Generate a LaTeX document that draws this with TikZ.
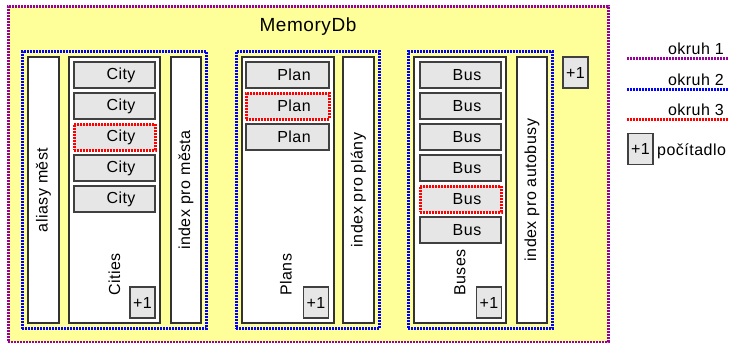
\documentclass[tikz,border=0pt]{standalone}
\usepackage{fontspec}
\setmainfont{Liberation Sans}[LetterSpace=3]
\usetikzlibrary{fit}
\definecolor{okruhA}{HTML}{990099}
\definecolor{okruhB}{HTML}{0000FF}
\definecolor{okruhC}{HTML}{FF0000}
\definecolor{dbYellow}{HTML}{FFFF99}
\definecolor{itemGray}{HTML}{E6E6E6}

\begin{document}
\begin{tikzpicture}[x=1pt,y=-1pt,
  ring/.style={line width=3pt,dash pattern=on 2pt off 1pt},
  ringA/.style={ring,draw=okruhA},
  ringB/.style={ring,draw=okruhB},
  ringC/.style={ring,draw=okruhC},
  column/.style={draw=black!80,line width=1.2pt,fill=white,minimum width=#1,
    minimum height=266pt,inner sep=0pt,font=\fontsize{16}{16}\selectfont},
  item/.style={draw=black!75,line width=1.2pt,fill=itemGray,minimum width=81pt,
    minimum height=26pt,inner sep=0pt,font=\fontsize{16}{16}\selectfont,
    execute at begin node=\hspace*{13pt}},
  counter/.style={draw=black!75,line width=1.2pt,fill=itemGray,minimum width=25pt,
    minimum height=31pt,inner sep=0pt,font=\fontsize{16}{16}\selectfont},
  lbl/.style={inner sep=0pt,font=\fontsize{16}{16}\selectfont}]
  \useasboundingbox (0,0) rectangle (729,343);
  % MemoryDb
  \node[ringA,fill=dbYellow,minimum width=600pt,minimum height=336pt] (memorydb) at (308,174) {};
  \node[inner sep=0pt,font=\fontsize{19}{19}\selectfont,anchor=base] (title) at (308,31) {MemoryDb};
  \node[counter] (dbCnt) at (575.5,72.5) {+1};
  % mesta
  \node[column=31pt] (aliasy) at (43.5,190) {\rotatebox{90}{aliasy měst}};
  \node[column=91pt] (cities) at (114.5,190) {};
  \node[column=30pt] (idxMesta) at (186,190) {\rotatebox{90}{index pro města}};
  \node[item] (city1) at (114.5,75) {City};
  \node[item] (city2) at (114.5,106) {City};
  \node[item,ringC] (city3) at (114.5,137) {City};
  \node[item] (city4) at (114.5,168) {City};
  \node[item] (city5) at (114.5,199) {City};
  \node[lbl,rotate=90,anchor=west] (citiesLbl) at (114.5,296) {Cities};
  \node[counter] (citiesCnt) at (142.5,302.5) {+1};
  \node[ringB,fit=(aliasy)(cities)(idxMesta),inner sep=5pt] (grpMesta) {};
  % plany
  \node[column=92pt] (plans) at (288,190) {};
  \node[column=31pt] (idxPlany) at (358.5,190) {\rotatebox{90}{index pro plány}};
  \node[item,minimum width=83pt] (plan1) at (287.5,75) {Plan};
  \node[item,minimum width=83pt,ringC] (plan2) at (287.5,106) {Plan};
  \node[item,minimum width=83pt] (plan3) at (287.5,137) {Plan};
  \node[lbl,rotate=90,anchor=west] (plansLbl) at (286,296) {Plans};
  \node[counter] (plansCnt) at (316,302.5) {+1};
  \node[ringB,fit=(plans)(idxPlany),inner sep=5pt] (grpPlany) {};
  % autobusy
  \node[column=92pt] (buses) at (460,190) {};
  \node[column=30pt] (idxBusy) at (532,190) {\rotatebox{90}{index pro autobusy}};
  \node[item] (bus1) at (460.5,75) {Bus};
  \node[item] (bus2) at (460.5,106) {Bus};
  \node[item] (bus3) at (460.5,137) {Bus};
  \node[item] (bus4) at (460.5,168) {Bus};
  \node[item,ringC] (bus5) at (460.5,199) {Bus};
  \node[item] (bus6) at (460.5,230) {Bus};
  \node[lbl,rotate=90,anchor=west] (busesLbl) at (460,296) {Buses};
  \node[counter] (busesCnt) at (489,302.5) {+1};
  \node[ringB,fit=(buses)(idxBusy),inner sep=5pt] (grpBusy) {};
  % legenda
  \coordinate (legA1) at (627,58);
  \coordinate (legA2) at (729,58);
  \coordinate (legB1) at (627,89);
  \coordinate (legB2) at (729,89);
  \coordinate (legC1) at (627,119);
  \coordinate (legC2) at (729,119);
  \draw[ringA] (legA1) -- (legA2);
  \draw[ringB] (legB1) -- (legB2);
  \draw[ringC] (legC1) -- (legC2);
  \node[lbl,anchor=base east] (legAtxt) at (724,54) {okruh 1};
  \node[lbl,anchor=base east] (legBtxt) at (724,85) {okruh 2};
  \node[lbl,anchor=base east] (legCtxt) at (724,115) {okruh 3};
  \node[counter] (legCnt) at (640.5,149) {+1};
  \node[lbl,anchor=base west] (legCntTxt) at (657,155) {počítadlo};
\end{tikzpicture}
\end{document}
